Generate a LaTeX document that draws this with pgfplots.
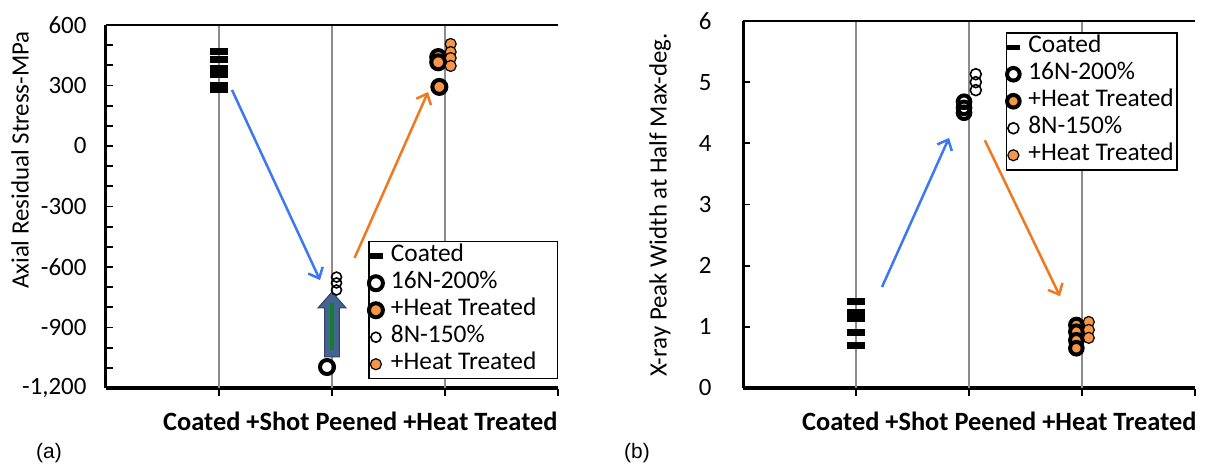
\documentclass[border=0pt]{standalone}
\usepackage{pgfplots}
\pgfplotsset{compat=1.18}
\usetikzlibrary{arrows.meta}
\usepackage{fontspec}
\setmainfont{Carlito}
\newfontfamily\arialf{Liberation Sans}
\definecolor{htorange}{RGB}{247,150,70}
\definecolor{arrblue}{RGB}{60,120,240}
\definecolor{arrorange}{RGB}{240,120,30}
\definecolor{blockblue}{RGB}{70,100,145}
\definecolor{gridgray}{RGB}{140,140,140}
\definecolor{arrgreen}{RGB}{20,125,40}

\pgfplotsset{
  myaxis/.style={
    scale only axis, width=452bp,
    xmin=0, xmax=4,
    axis x line*=bottom, axis y line*=left,
    axis line style={line width=3bp, black},
    every inner x axis line/.append style={-},
    every inner y axis line/.append style={-},
    xtick={1,2,3,4}, xticklabels={},
    tick align=inside,
    major tick length=7bp, minor tick length=7bp,
    xtick style={line width=2bp, black, yshift=-8bp},
    ytick style={line width=1.8bp, black},
    minor y tick style={line width=1.8bp, black},
    extra x ticks={1,2,3}, extra x tick labels={},
    extra x tick style={grid=major, major tick length=0pt},
    grid style={gridgray, line width=1.5bp},
    /pgf/number format/assume math mode=true,
    /pgf/number format/1000 sep={,},
    yticklabel style={font=\fontsize{25}{30}\selectfont, xshift=-16bp},
    clip=false,
    legend cell align=left,
    legend style={draw=black, line width=1.5bp, anchor=north west,
      font=\fontsize{25.5}{28}\selectfont,
      nodes={inner sep=3bp, text height=16bp, text depth=5bp},
      /tikz/every odd column/.append style={column sep=5bp},
      inner xsep=0bp, inner ysep=1bp},
  },
  coated/.style={only marks, mark=-, mark size=9bp, mark options={line width=7bp, black},
    legend image code/.code={\draw[mark=-, mark size=7bp, mark options={line width=5.5bp, black}] plot coordinates {(0.3cm,0cm)};}},
  nA/.style={only marks, mark=o, mark size=#1, mark options={line width=4bp, draw=black}},
  nAh/.style={only marks, mark=*, mark size=#1, mark options={line width=4bp, draw=black, fill=htorange}},
  nB/.style={only marks, mark=o, mark size=#1, mark options={line width=1.6bp, draw=black, fill=white}},
  nBh/.style={only marks, mark=*, mark size=#1, mark options={line width=1.2bp, draw=black, fill=htorange}},
}

\begin{document}
\begin{tikzpicture}
\useasboundingbox (-106bp,-79bp) rectangle (1108bp,388bp);

% ---------- (a) ----------
\begin{axis}[myaxis, at={(0bp,0bp)}, anchor=south west, height=363bp,
  ymin=-1200, ymax=600, ytick={-1200,-900,...,600}, minor y tick num=2,
  legend style={at={(0.58,0.405)}}]
\addplot[coated] coordinates {(1,469) (1,429) (1,382) (1,357) (1,298) (1,278)};
\addlegendentry{Coated}
\addplot[nA=7bp] coordinates {(1.956,-1096)};
\addlegendentry{16N-200\%}
\addplot[nAh=7bp] coordinates {(2.94,441) (2.94,415) (2.95,293)};
\addlegendentry{+Heat Treated\hspace*{18bp}}
\addplot[nB=5bp] coordinates {(2.04,-650) (2.04,-679) (2.04,-714)};
\addlegendentry{8N-150\%}
\addplot[nBh=5.5bp] coordinates {(3.05,506) (3.05,466) (3.05,436) (3.05,397)};
\addlegendentry{+Heat Treated}
\draw[line width=2bp] (rel axis cs:0,1) -- (rel axis cs:1,1);
\draw[arrblue, line width=2.5bp, -{Straight Barb[length=9bp,width=16bp]}] (axis cs:1.115,278) -- (axis cs:1.894,-665);
\draw[arrorange, line width=2.5bp, -{Straight Barb[length=9bp,width=16bp]}] (axis cs:2.20,-555) -- (axis cs:2.85,268);
\fill[blockblue, draw=blockblue!70!black, line width=1bp]
  (axis cs:2,-724) -- (axis cs:2.124,-803) -- (axis cs:2.066,-803) -- (axis cs:2.066,-1046)
  -- (axis cs:1.934,-1046) -- (axis cs:1.934,-803) -- (axis cs:1.876,-803) -- cycle;
\draw[arrgreen, line width=4bp] (axis cs:2,-1012) -- (axis cs:2,-779);
\end{axis}

% ---------- (b) ----------
\begin{axis}[myaxis, at={(637bp,0bp)}, anchor=south west, height=367bp,
  ymin=0, ymax=6, ytick={0,1,...,6},
  yticklabel style={xshift=-12bp},
  legend style={at={(0.581,0.970)}}]
\addplot[coated] coordinates {(1,1.41) (1,1.24) (1,1.14) (1,0.90) (1,0.69)};
\addlegendentry{Coated}
\addplot[nA=6.3bp] coordinates {(1.956,4.68) (1.956,4.58) (1.956,4.50)};
\addlegendentry{16N-200\%}
\addplot[nAh=6.3bp] coordinates {(2.95,1.03) (2.95,0.92) (2.95,0.78) (2.95,0.65)};
\addlegendentry{+Heat Treated}
\addplot[nB=5.5bp] coordinates {(2.06,5.13) (2.06,5.00) (2.06,4.87)};
\addlegendentry{8N-150\%}
\addplot[nBh=5.5bp] coordinates {(3.06,1.08) (3.06,0.95) (3.06,0.82)};
\addlegendentry{+Heat Treated}
\draw[line width=2bp] (rel axis cs:0,1) -- (rel axis cs:1,1);
\draw[arrblue, line width=2.5bp, -{Straight Barb[length=9bp,width=16bp]}] (axis cs:1.23,1.65) -- (axis cs:1.823,4.09);
\draw[arrorange, line width=2.5bp, -{Straight Barb[length=9bp,width=16bp]}] (axis cs:2.14,4.05) -- (axis cs:2.805,1.50);
\end{axis}

% ---------- text ----------
\node[rotate=90, font=\fontsize{25}{30}\selectfont] at (-86bp,228bp) {Axial Residual Stress-MPa};
\node[rotate=90, font=\fontsize{25}{30}\selectfont] at (554bp,183bp) {X-ray Peak Width at Half Max-deg.};
\node[anchor=west, font=\fontsize{26.5}{30}\selectfont\bfseries, inner sep=0pt] at (57bp,-33bp) {Coated +Shot Peened +Heat Treated};
\node[anchor=west, font=\fontsize{26.5}{30}\selectfont\bfseries, inner sep=0pt] at (696bp,-33bp) {Coated +Shot Peened +Heat Treated};
\node[font=\arialf\fontsize{21}{25}\selectfont] at (-57bp,-65bp) {(a)};
\node[font=\arialf\fontsize{21}{25}\selectfont] at (531bp,-65bp) {(b)};
\end{tikzpicture}
\end{document}
